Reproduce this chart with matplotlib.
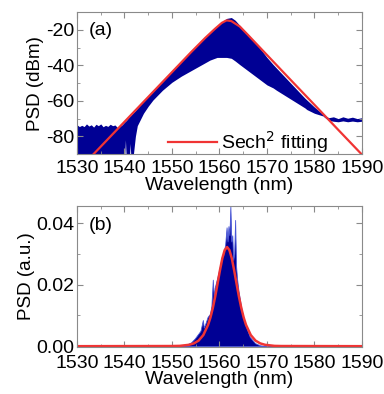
import matplotlib
matplotlib.use('Agg')
import matplotlib.pyplot as plt
from matplotlib.ticker import MultipleLocator

plt.rcParams['font.family'] = ['Liberation Sans', 'DejaVu Sans']
plt.rcParams['axes.unicode_minus'] = False

a_wl = [1530, 1530.5, 1531, 1531.5, 1532, 1532.5, 1533, 1533.5, 1534, 1534.5,
        1535, 1535.5, 1536, 1536.5, 1537, 1537.5, 1538, 1538.5, 1539, 1539.5,
        1540, 1540.2, 1540.4, 1541, 1541.2, 1541.4, 1541.8, 1542.3, 1542.7,
        1544, 1545, 1546, 1548, 1550, 1552, 1554, 1555, 1557, 1558, 1559,
        1559.5, 1560.5, 1561.5, 1562.5, 1563.3, 1564.3, 1566, 1567, 1568,
        1570, 1571.3, 1572, 1575, 1578, 1578.4, 1580, 1581.9, 1582, 1583,
        1584, 1585, 1586, 1587, 1588, 1589, 1590]
a_upper = [-73.5, -74.5, -73.8, -74.5, -73.0, -74.2, -73.5, -74.8, -73.2, -74.0,
           -73.0, -74.6, -73.8, -74.4, -73.2, -74.0, -73.6, -75.0, -74.4, -73.5,
           -72.0, -71.5, -71.0, -69.0, -68.5, -68.0, -66.8, -65.5, -64.2,
           -60.0, -57.2, -54.3, -48.5, -43.3, -37.5, -32.0, -29.2, -24.0, -21.5, -19.0,
           -17.8, -15.5, -13.5, -13.0, -14.5, -17.5, -22.5, -25.5, -28.5,
           -35.5, -39.5, -41.5, -50.0, -58.5, -59.5, -63.5, -67.8, -68.0, -69.5,
           -69.0, -70.0, -69.0, -69.8, -69.2, -70.0, -69.5]
a_lower = [-95, -95, -95, -95, -95, -95, -95, -95, -95, -95,
           -95, -95, -95, -95, -95, -95, -95, -95, -95, -95,
           -95, -82, -95, -95, -84, -95, -92, -80, -74,
           -67, -63, -59.5, -54, -49.5, -46, -43, -41.5, -38.5, -37, -36,
           -35.5, -35.5, -35.5, -36, -37.5, -39.6, -43, -45, -47,
           -51, -52.7, -54, -59, -64, -64.9, -67, -68.6, -69, -71,
           -71.5, -71.8, -71.3, -71.8, -71.4, -71.8, -71.5]

# (a) sech^2 fit (dB)
a_fit_wl = [1533.5, 1540, 1546, 1550, 1554, 1557, 1559, 1560.5, 1561.5,
            1562.5, 1564.3, 1566, 1570, 1575, 1580, 1585, 1590]
a_fit = [-90, -71.8, -55, -43.8, -32.6, -24.5, -19.5, -16, -14.6,
         -15, -18.1, -22.8, -34.1, -48.2, -62.2, -76.3, -90.3]

# (b) linear spectrum (a.u.)
b_wl = [1530, 1552, 1553, 1554, 1554.8, 1556, 1556.5, 1556.7, 1557, 1557.5,
        1558, 1558.3, 1558.6, 1558.8, 1559.0, 1559.5, 1560.1, 1560.5, 1560.8,
        1561.2, 1561.5, 1561.7, 1561.9, 1562.1, 1562.3, 1562.5, 1562.7, 1562.9,
        1563.1, 1563.3, 1563.5, 1563.7, 1564.0, 1564.7, 1565.4, 1566.4, 1567.5,
        1568.5, 1570, 1590]
b_psd = [0, 0, 0.0005, 0.0012, 0.0025, 0.005, 0.0085, 0.006, 0.0072, 0.0095,
         0.0105, 0.013, 0.0216, 0.016, 0.019, 0.022, 0.026, 0.029, 0.0296,
         0.033, 0.0386, 0.034, 0.039, 0.036, 0.0455, 0.034, 0.036, 0.028,
         0.030, 0.041, 0.026, 0.022, 0.018, 0.0115, 0.0072, 0.003, 0.001,
         0.0003, 0, 0]

# (b) sech^2 fit
b_fit_wl = [1530, 1550, 1551.6, 1553.6, 1554.6, 1555.6, 1556.6, 1557.6, 1558.1,
            1558.6, 1559.1, 1559.6, 1560.1, 1560.6, 1561.1, 1561.6, 1562.1,
            1562.6, 1563.1, 1563.6, 1564.1, 1564.6, 1565.1, 1565.6, 1566.6,
            1567.6, 1568.6, 1569.6, 1571.6, 1573, 1590]
b_fit = [0, 0.00005, 0.0001, 0.00045, 0.0009, 0.0018, 0.0036, 0.0069, 0.0093,
         0.0124, 0.0161, 0.0203, 0.0246, 0.0285, 0.0312, 0.0322, 0.0312,
         0.0285, 0.0246, 0.0203, 0.0161, 0.0124, 0.0093, 0.0069, 0.0036,
         0.0018, 0.0009, 0.00045, 0.0001, 0.00005, 0]

blue = '#000094'
red = '#f03434'
spine_col = '#8a8a8a'
fs = 14

fig = plt.figure(figsize=(3.84, 3.94), dpi=100)
ax1 = fig.add_axes([0.2005, 0.609, 0.742, 0.360])
ax2 = fig.add_axes([0.2005, 0.119, 0.742, 0.358])


def style(ax, xpad, lpad):
    for s in ax.spines.values():
        s.set_color(spine_col)
        s.set_linewidth(0.8)
    ax.tick_params(which='both', direction='in', top=True, right=True,
                   color=spine_col, labelsize=fs, pad=2)
    ax.tick_params(axis='x', pad=xpad)
    ax.tick_params(which='major', length=4)
    ax.tick_params(which='minor', length=2.5)
    ax.set_xlim(1530, 1590)
    ax.xaxis.set_major_locator(MultipleLocator(10))
    ax.xaxis.set_minor_locator(MultipleLocator(5))
    ax.set_xlabel('Wavelength (nm)', fontsize=fs, labelpad=lpad)


# panel (a)
ax1.fill_between(a_wl, a_lower, a_upper, color=blue, lw=0)
ax1.plot(a_fit_wl, a_fit, color=red, lw=1.6, label='Sech$^2$ fitting')
ax1.set_ylim(-90, -10)
ax1.yaxis.set_major_locator(MultipleLocator(20))
ax1.yaxis.set_minor_locator(MultipleLocator(10))
ax1.set_ylabel('PSD (dBm)', fontsize=13.5, labelpad=1)
ax1.text(0.04, 0.87, '(a)', transform=ax1.transAxes, fontsize=fs, va='center')
ax1.legend(loc='lower right', bbox_to_anchor=(0.94, -0.13), frameon=False,
           fontsize=fs, handlelength=2.5, handletextpad=0.2)
style(ax1, 4, 0.5)

# panel (b)
ax2.fill_between(b_wl, 0, b_psd, color=blue, lw=0.6, edgecolor='#4a58d8')
ax2.plot(b_fit_wl, b_fit, color=red, lw=1.8)
ax2.set_ylim(-0.0003, 0.0455)
ax2.yaxis.set_major_locator(MultipleLocator(0.02))
ax2.yaxis.set_minor_locator(MultipleLocator(0.01))
ax2.yaxis.set_major_formatter(plt.FormatStrFormatter('%.2f'))
ax2.set_ylabel('PSD (a.u.)', fontsize=13.5, labelpad=1)
ax2.text(0.04, 0.865, '(b)', transform=ax2.transAxes, fontsize=fs, va='center')
style(ax2, 5.5, -0.5)

fig.savefig('out.png', dpi=100)
